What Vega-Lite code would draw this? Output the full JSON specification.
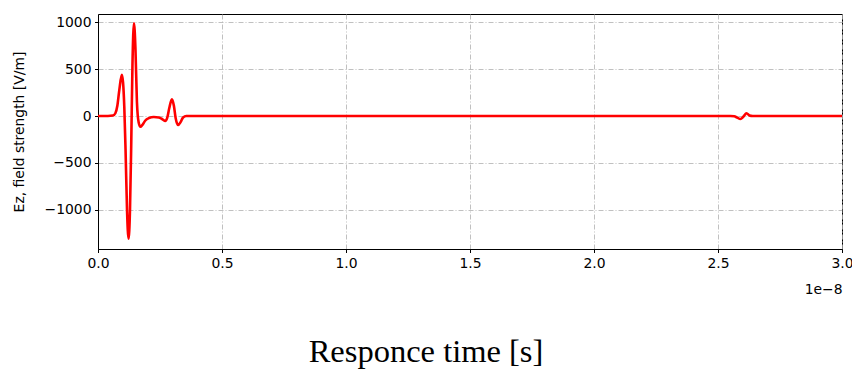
{
  "$schema": "https://vega.github.io/schema/vega-lite/v6.json",
  "autosize": {"type": "none"},
  "width": 744,
  "height": 235,
  "padding": {"left": 98, "top": 14, "right": 10, "bottom": 121},
  "background": "white",
  "title": {
    "text": "Responce time [s]",
    "orient": "bottom",
    "font": "Liberation Serif",
    "fontSize": 32.5,
    "fontWeight": "normal",
    "color": "black",
    "offset": 40,
    "anchor": "middle",
    "dx": -44
  },
  "config": {
    "view": {"stroke": "black", "strokeWidth": 1},
    "axis": {
      "labelFont": "DejaVu Sans",
      "labelFontSize": 13.9,
      "labelColor": "black",
      "labelFlush": false,
      "titleFont": "DejaVu Sans",
      "titleFontSize": 13.9,
      "titleFontWeight": "normal",
      "titleColor": "black",
      "domainColor": "black",
      "tickColor": "black",
      "tickSize": 3.5,
      "labelPadding": 3.5,
      "gridColor": "#b0b0b0",
      "gridWidth": 0.8,
      "gridDash": [5, 2, 1, 2]
    }
  },
  "data": {
    "values": [
      {"t": 0.0, "ez": 0},
      {"t": 0.04, "ez": 0},
      {"t": 0.06, "ez": 5},
      {"t": 0.07, "ez": 30},
      {"t": 0.078, "ez": 110},
      {"t": 0.086, "ez": 280},
      {"t": 0.096, "ez": 440},
      {"t": 0.101, "ez": 360},
      {"t": 0.106, "ez": 100},
      {"t": 0.111, "ez": -350},
      {"t": 0.117, "ez": -1000},
      {"t": 0.123, "ez": -1310},
      {"t": 0.129, "ez": -1000},
      {"t": 0.134, "ez": -300},
      {"t": 0.139, "ez": 550},
      {"t": 0.145, "ez": 990},
      {"t": 0.151, "ez": 720},
      {"t": 0.157, "ez": 150},
      {"t": 0.164, "ez": -70},
      {"t": 0.171, "ez": -115},
      {"t": 0.179, "ez": -95},
      {"t": 0.19, "ez": -50},
      {"t": 0.205, "ez": -22},
      {"t": 0.225, "ez": -10},
      {"t": 0.245, "ez": -15},
      {"t": 0.26, "ez": -35},
      {"t": 0.271, "ez": -52},
      {"t": 0.279, "ez": -20},
      {"t": 0.287, "ez": 80},
      {"t": 0.298, "ez": 178},
      {"t": 0.306, "ez": 110},
      {"t": 0.313, "ez": -20},
      {"t": 0.323, "ez": -96},
      {"t": 0.333, "ez": -65},
      {"t": 0.343, "ez": -15},
      {"t": 0.356, "ez": 0},
      {"t": 0.5, "ez": 0},
      {"t": 1.0, "ez": 0},
      {"t": 1.5, "ez": 0},
      {"t": 2.0, "ez": 0},
      {"t": 2.55, "ez": 0},
      {"t": 2.565, "ez": -3},
      {"t": 2.578, "ez": -17},
      {"t": 2.59, "ez": -32},
      {"t": 2.603, "ez": -5},
      {"t": 2.615, "ez": 30},
      {"t": 2.627, "ez": 6},
      {"t": 2.64, "ez": 0},
      {"t": 3.0, "ez": 0}
    ]
  },
  "mark": {"type": "line", "color": "#ff0000", "strokeWidth": 2.6, "interpolate": "monotone", "clip": true},
  "encoding": {
    "x": {
      "field": "t",
      "type": "quantitative",
      "scale": {"domain": [0, 3.0], "nice": false, "zero": false},
      "axis": {
        "values": [0, 0.5, 1.0, 1.5, 2.0, 2.5, 3.0],
        "format": ".1f",
        "title": "1e\u22128",
        "titleAnchor": "end",
        "titleAlign": "right",
        "titleBaseline": "alphabetic",
        "titleX": 744,
        "titleY": 44,
        "grid": true
      }
    },
    "y": {
      "field": "ez",
      "type": "quantitative",
      "scale": {"domain": [-1420, 1090], "nice": false, "zero": false},
      "axis": {
        "values": [-1000, -500, 0, 500, 1000],
        "labelExpr": "replace(format(datum.value, 'd'), '-', '\u2212')",
        "title": "Ez, field strength [V/m]",
        "titleX": -72,
        "titleAnchor": "middle",
        "grid": true
      }
    }
  }
}
